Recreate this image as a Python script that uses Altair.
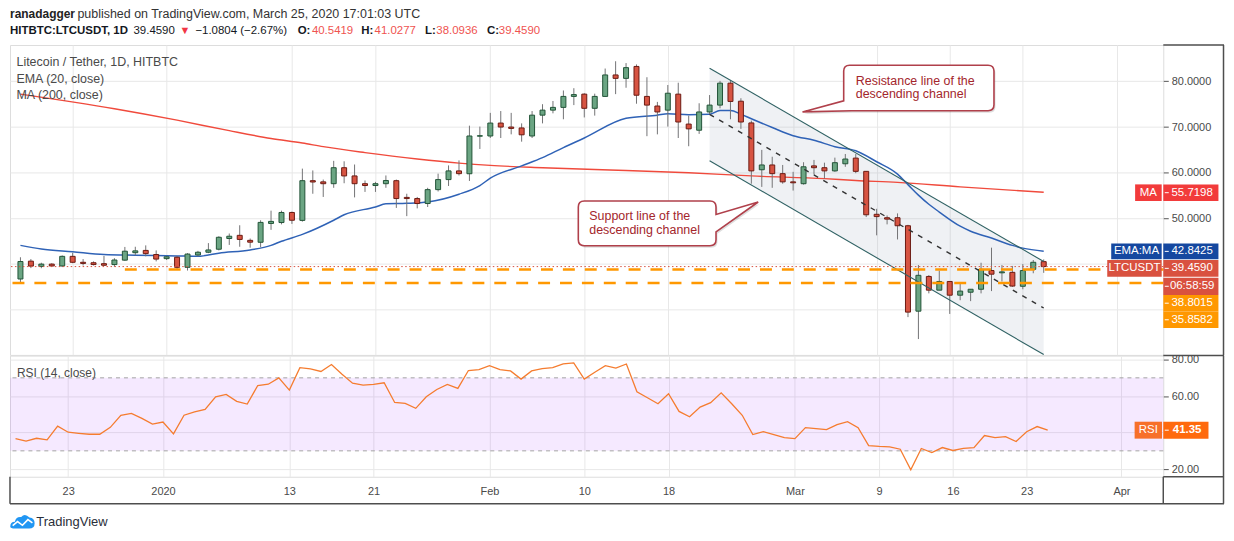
import altair as alt
import pandas as pd

FONT = "Liberation Sans"

# ---------------- values ----------------
first_day = "2019-12-18"
opens = [36.74, 40.65, 39.5, 40.0, 39.6, 41.7, 40.4, 40.3, 40.1, 39.9,
         40.87, 42.5, 43.0, 42.1, 41.2, 41.5, 39.3, 42.0, 42.6, 43.26,
         45.6, 46.3, 45.2, 44.78, 48.9, 49.1, 51.3, 49.57, 58.26, 58.0,
         57.6, 61.1, 59.3, 57.6, 57.2, 57.6, 58.26, 54.6, 54.35, 53.26,
         56.3, 58.5, 60.4, 59.78, 68.0, 68.04, 70.87, 70.0, 69.8, 68.04,
         72.6, 73.7, 74.3, 76.7, 77.2, 74.1, 76.7, 81.4, 80.65, 83.26,
         76.7, 74.6, 73.7, 77.2, 70.65, 69.3, 73.3, 74.8, 79.6, 75.65,
         70.9, 60.65, 61.7, 59.8, 58.0, 57.6, 61.5, 61.1, 60.4, 61.96,
         63.2, 60.3, 50.9, 50.15, 50.15, 48.4, 29.7, 37.3, 34.3, 36.2,
         33.2, 33.85, 34.5, 38.6, 38.1, 38.2, 35.15, 38.85, 40.5419]
highs = [41.5, 41.1, 40.3, 40.2, 41.9, 42.5, 41.1, 40.6, 41.8, 41.3,
         43.76, 43.8, 44.1, 43.0, 41.8, 41.8, 42.4, 42.9, 44.6, 46.1,
         46.7, 48.5, 45.6, 49.6, 51.7, 51.7, 51.5, 60.9, 60.5, 58.5,
         62.6, 62.5, 61.8, 58.3, 58.0, 59.4, 58.5, 55.4, 54.7, 56.7,
         59.8, 61.6, 62.7, 70.3, 70.1, 73.1, 73.5, 73.1, 70.8, 73.5,
         75.0, 75.7, 78.0, 78.5, 77.4, 77.3, 82.8, 84.4, 84.0, 83.7,
         80.9, 75.5, 79.2, 79.7, 72.5, 75.2, 77.0, 80.1, 80.3, 76.3,
         71.4, 65.0, 63.5, 61.7, 60.2, 62.3, 62.8, 62.2, 63.3, 64.1,
         64.1, 60.3, 52.1, 50.65, 51.1, 48.6, 39.8, 37.6, 38.6, 36.2,
         35.7, 34.5, 40.3, 43.6, 39.8, 39.6, 40.0, 40.9, 41.0277]
lows = [35.7, 39.13, 39.1, 39.4, 39.35, 40.2, 39.7, 39.7, 39.6, 39.4,
        40.7, 41.9, 41.7, 40.6, 40.9, 38.9, 38.6, 41.7, 42.4, 43.0,
        44.2, 43.8, 43.6, 43.7, 47.5, 48.7, 48.8, 49.3, 55.4, 54.7,
        56.7, 57.7, 54.6, 55.8, 55.8, 56.7, 52.3, 50.5, 52.2, 52.5,
        55.9, 57.1, 59.4, 58.2, 65.2, 67.6, 67.6, 68.4, 66.8, 67.6,
        70.8, 73.0, 71.7, 74.8, 72.1, 72.5, 76.6, 77.2, 78.6, 75.1,
        68.0, 68.4, 70.1, 67.6, 65.8, 68.5, 72.8, 74.1, 71.7, 69.6,
        57.6, 56.9, 56.7, 57.6, 56.1, 57.4, 59.6, 58.7, 60.2, 61.3,
        59.9, 50.3, 46.3, 48.7, 45.4, 28.4, 23.6, 33.6, 34.3, 29.1,
        32.1, 31.9, 33.6, 34.1, 36.2, 35.0, 34.5, 38.0, 38.0936]
closes = [40.57, 39.57, 40.0, 39.6, 41.7, 40.4, 40.15, 39.9, 39.75, 40.9,
          42.83, 42.9, 42.3, 41.1, 41.6, 39.3, 42.2, 42.6, 43.1, 45.87,
          46.1, 45.4, 44.8, 49.13, 49.35, 51.3, 49.6, 58.26, 57.97, 57.6,
          61.1, 59.3, 57.6, 57.2, 57.6, 58.3, 54.35, 54.35, 53.26, 56.3,
          58.5, 60.4, 59.8, 68.04, 68.1, 70.87, 70.0, 69.7, 68.3, 72.6,
          73.7, 74.3, 76.7, 77.1, 74.1, 76.7, 81.4, 80.65, 83.0, 76.96,
          74.8, 73.3, 77.4, 71.1, 69.6, 73.3, 74.8, 79.6, 75.6, 71.1,
          60.4, 61.7, 59.8, 58.0, 57.8, 61.3, 61.1, 60.4, 62.2, 63.0,
          60.3, 50.8, 50.4, 49.85, 48.4, 29.5, 37.55, 34.3, 36.2, 33.2,
          34.1, 34.5, 38.85, 37.8, 38.3, 35.2, 38.6, 40.4, 39.459]
rsi_values = [36.7, 35.3, 36.9, 36.0, 43.5, 40.2, 39.6, 39.1, 39.1, 42.9,
              49.5, 50.5, 47.8, 44.7, 45.8, 39.3, 49.5, 51.3, 52.7, 59.6,
              60.9, 57.1, 55.6, 65.8, 66.5, 70.0, 63.3, 75.6, 74.9, 73.5,
              77.3, 72.0, 67.1, 66.0, 66.4, 67.3, 56.5, 56.0, 53.3, 59.6,
              63.6, 66.4, 64.2, 74.0, 74.5, 76.7, 74.5, 73.8, 69.3, 73.8,
              75.1, 75.6, 77.6, 78.2, 69.3, 73.1, 76.7, 75.3, 77.6, 62.4,
              59.1, 55.8, 61.3, 51.6, 48.7, 54.0, 56.4, 61.8, 55.8, 49.5,
              38.9, 40.5, 38.9, 37.3, 36.7, 42.7, 42.2, 41.6, 44.4, 46.0,
              42.7, 32.9, 32.4, 32.2, 30.9, 19.6, 31.3, 29.1, 31.8, 30.2,
              31.3, 31.8, 38.4, 37.3, 37.8, 35.1, 40.5, 43.3, 41.35]

ema_days = [0, 2, 5, 8, 11, 15, 17, 19, 22, 24, 25, 27, 30, 31, 34, 35, 37, 39, 42, 44,
            45, 48, 50, 52, 54, 58, 61, 62, 64, 66, 67, 68, 69, 70, 72, 74, 76, 78, 80, 82,
            84, 85, 86, 87, 88, 90, 91, 93, 95, 96, 98]
ema_values = [44.1, 43.3, 42.7, 42.1, 41.95, 41.8, 41.7, 42.4, 43.1, 44.1, 45.0, 46.5, 49.6, 50.8,
              52.5, 53.2, 53.3, 53.6, 55.3, 57.2, 58.8, 61.5, 63.3, 65.5, 67.6, 71.9, 72.6, 72.9,
              72.7, 72.8, 73.6, 73.6, 72.8, 71.8, 69.9, 68.1, 67.1, 65.7, 64.8, 62.4, 59.7, 57.4,
              55.1, 53.1, 51.4, 48.3, 47.2, 45.7, 44.1, 43.5, 42.84]
ma_days = [0, 9, 15, 20, 24, 27, 29, 33, 38, 42, 45, 50, 55, 58, 64, 70, 77, 80, 84, 90, 98]
ma_values = [77.2, 74.0, 71.5, 69.2, 67.5, 66.5, 65.7, 64.4, 63.0, 62.1, 61.6, 61.1, 60.7, 60.5,
             60.0, 59.3, 58.7, 58.3, 57.9, 56.9, 55.72]

channel_dates = ["2020-02-22", "2020-03-25"]
channel_upper = [82.88, 40.57]
channel_middle = [72.75, 30.4]
channel_lower = [62.61, 20.2]

last_price = 39.459
level_high = 38.8015
level_high_start = "2019-12-28"
level_low = 35.8582
rsi_band = [70, 30]

price_ticks = [30, 40, 50, 60, 70, 80]
price_labelled = [50, 60, 70, 80]
rsi_ticks = [20, 40, 60, 80]
rsi_labelled = [20, 60, 80]
tick_dates = ["2019-12-23", "2020-01-01", "2020-01-13", "2020-01-21", "2020-02-01", "2020-02-10",
              "2020-02-18", "2020-03-01", "2020-03-09", "2020-03-16", "2020-03-23", "2020-04-01"]

# ---------------- layout constants ----------------
W = 1158.5
H1 = 311.3
H2 = 121.7
FRAME = "#4e4e4e"
GRID = "#e8e8e8"
UP, UP_B = "#6ba583", "#225437"
DN, DN_B = "#d75442", "#6b1a12"
ORANGE = "#ff9800"

dates = pd.date_range(first_day, periods=len(closes), freq="D").strftime("%Y-%m-%d").tolist()
DAY = 86400000
base_ms = pd.Timestamp(first_day, tz="UTC").value // 10**6
x_domain = [base_ms - 0.5246 * DAY, base_ms + 108.975 * DAY]
tick_ms = [int(pd.Timestamp(d, tz="UTC").value // 10**6) for d in tick_dates]

xscale = alt.Scale(type="utc", domain=x_domain, nice=False)
x_axis_top = alt.Axis(values=tick_ms, grid=True, gridColor=GRID, labels=False, ticks=False,
                      domain=False, title=None, zindex=0)
x_axis_bot = alt.Axis(values=tick_ms, grid=True, gridColor=GRID, labels=True, ticks=False,
                      domain=False, title=None, labelPadding=9, labelFont=FONT, labelFontSize=11,
                      labelColor="#4a4a4a", labelFlush=False, labelOverlap=False, zindex=0,
                      labelExpr="utcdate(datum.value) == 1 ? (utcmonth(datum.value) == 0 ? "
                                "utcFormat(datum.value, '%Y') : utcFormat(datum.value, '%b')) : "
                                "utcFormat(datum.value, '%-d')")
pscale = alt.Scale(domain=[20.13, 87.95], nice=False, zero=False)
p_axis = alt.Axis(orient="right", values=price_labelled, format=".4f", grid=True,
                  gridColor=GRID, domain=False, ticks=True, tickSize=5, tickColor="#555555",
                  labelPadding=3, labelFont=FONT, labelFontSize=11, labelColor="#4a4a4a",
                  title=None, labelOverlap=False, zindex=0)
rscale = alt.Scale(domain=[15.8, 82.18], nice=False, zero=False)
r_axis = alt.Axis(orient="right", values=rsi_labelled, format=".2f", grid=True,
                  gridColor=GRID, domain=False, ticks=True, tickSize=5, tickColor="#555555",
                  labelPadding=3, labelFont=FONT, labelFontSize=11, labelColor="#4a4a4a",
                  title=None, labelOverlap=False, zindex=0)


def XT(field):
    return alt.X(f"{field}:T", scale=xscale, axis=x_axis_top)


def XB(field):
    return alt.X(f"{field}:T", scale=xscale, axis=x_axis_bot)


def YP(field):
    return alt.Y(f"{field}:Q", scale=pscale, axis=p_axis)


def YR(field):
    return alt.Y(f"{field}:Q", scale=rscale, axis=r_axis)


one = pd.DataFrame({"a": [0]})


def txt(s, x, y, size=12, color="#222222", weight="normal", align="left"):
    return alt.Chart(pd.DataFrame({"s": [s]})).mark_text(
        align=align, baseline="middle", font=FONT, fontSize=size, fontWeight=weight, color=color
    ).encode(text="s:N", x=alt.value(x), y=alt.value(y))


def prule(x, y, x2=None, y2=None, color=FRAME, width=1.5):
    enc = dict(x=alt.value(x), y=alt.value(y))
    if x2 is not None:
        enc["x2"] = alt.value(x2)
    if y2 is not None:
        enc["y2"] = alt.value(y2)
    return alt.Chart(one).mark_rule(color=color, strokeWidth=width).encode(**enc)


def prect(x, x2, y, y2, color):
    return alt.Chart(one).mark_rect(color=color, opacity=1).encode(
        x=alt.value(x), x2=alt.value(x2), y=alt.value(y), y2=alt.value(y2))


def tag(label, value, y, y2, color, label_left=None, text_size=11.5):
    parts = []
    if label is not None:
        parts.append(prect(label_left, W - 1.6, y, y2, color))
        parts.append(txt(label, (label_left + W - 1.6) / 2, (y + y2) / 2, text_size, "white", align="center"))
    parts.append(prect(W, W + 55.4, y, y2, color))
    parts.append(prule(W + 1.5, (y + y2) / 2, x2=W + 5.5, color="white", width=1))
    parts.append(txt(value, W + 29, (y + y2) / 2, text_size, "white", align="center"))
    return parts


# ---------------- price panel ----------------
candles = pd.DataFrame({"date": dates, "open": opens, "high": highs, "low": lows, "close": closes})
ema_df = pd.DataFrame({"date": [dates[i] for i in ema_days], "ema": ema_values})
ma_df = pd.DataFrame({"date": [dates[i] for i in ma_days], "ma": ma_values})
chan_df = pd.DataFrame({"date": channel_dates, "upper": channel_upper,
                        "middle": channel_middle, "lower": channel_lower})

extra_grid = alt.Chart(pd.DataFrame({"v": [v for v in price_ticks if v not in price_labelled]})).mark_rule(
    color=GRID, strokeWidth=1).encode(y=YP("v"))
chan_fill = alt.Chart(chan_df).mark_area(color="#8f9ab0", opacity=0.14).encode(
    x=XT("date"), y=YP("upper"), y2="lower:Q")
ma_line = alt.Chart(ma_df).mark_line(color="#f04a3c", strokeWidth=1.4, interpolate="monotone").encode(
    x=XT("date"), y=YP("ma"))
ema_line = alt.Chart(ema_df).mark_line(color="#2f62b6", strokeWidth=1.5, interpolate="monotone").encode(
    x=XT("date"), y=YP("ema"))
up_cond = "datum.close >= datum.open"
wicks = alt.Chart(candles).mark_rule(color="#737375", strokeWidth=1).encode(
    x=XT("date"), y=YP("low"), y2="high:Q")
bodies = alt.Chart(candles).mark_bar(size=5, strokeWidth=1).encode(
    x=XT("date"), y=YP("open"), y2="close:Q",
    fill=alt.condition(up_cond, alt.value(UP), alt.value(DN)),
    stroke=alt.condition(up_cond, alt.value(UP_B), alt.value(DN_B)))
chan_up = alt.Chart(chan_df).mark_line(color="#2f6163", strokeWidth=1.1).encode(x=XT("date"), y=YP("upper"))
chan_lo = alt.Chart(chan_df).mark_line(color="#2f6163", strokeWidth=1.1).encode(x=XT("date"), y=YP("lower"))
chan_mid = alt.Chart(chan_df).mark_line(color="#333333", strokeWidth=1.4, strokeDash=[5, 6]).encode(
    x=XT("date"), y=YP("middle"))
price_line = alt.Chart(pd.DataFrame({"v": [last_price]})).mark_rule(
    color=DN, strokeWidth=1, strokeDash=[1.5, 2.5]).encode(y=YP("v"))
lvl_lo = alt.Chart(pd.DataFrame({"v": [level_low]})).mark_rule(
    color=ORANGE, strokeWidth=2.5, strokeDash=[12, 10]).encode(y=YP("v"))
lvl_hi = alt.Chart(pd.DataFrame({"d": [level_high_start], "v": [level_high]})).mark_rule(
    color=ORANGE, strokeWidth=2.5, strokeDash=[12, 10]).encode(x=XT("d"), x2=alt.value(W), y=YP("v"))

RES_PATH = ("M -0.508 -0.238 L 0.938 -0.238 Q 1 -0.238 1 -0.176 L 1 0.176 Q 1 0.238 0.938 0.238 "
            "L -0.49 0.238 L -1 0.25 L -0.57 0.134 L -0.57 -0.176 Q -0.57 -0.238 -0.508 -0.238 Z")
SUP_PATH = ("M -0.934 -0.249 L 0.464 -0.249 Q 0.531 -0.249 0.531 -0.183 L 0.531 -0.099 L 1 -0.238 "
            "L 0.531 0.094 L 0.531 0.183 Q 0.531 0.249 0.464 0.249 L -0.934 0.249 Q -1 0.249 -1 0.183 "
            "L -1 -0.183 Q -1 -0.249 -0.934 -0.249 Z")
CALLOUT_RED = "#b0404b"
TEXT_RED = "#a3262c"


def callout(date, price, path, size):
    d = pd.DataFrame({"d": [date], "p": [price]})
    shadow = alt.Chart(d).mark_point(shape=path, size=size, filled=True, fill="#000000", fillOpacity=0.13,
                                     strokeWidth=0, opacity=1, xOffset=1.5, yOffset=2).encode(
        x=XT("d"), y=YP("p"))
    box = alt.Chart(d).mark_point(shape=path, size=size, filled=True, fill="white", fillOpacity=1,
                                  stroke=CALLOUT_RED, strokeWidth=1.6, opacity=1).encode(
        x=XT("d"), y=YP("p"))
    return [shadow, box]


def note_text(lines, date, prices):
    d = pd.DataFrame({"d": [date] * len(lines), "p": prices, "t": lines})
    return alt.Chart(d).mark_text(align="left", baseline="middle", font=FONT, fontSize=12.5,
                                  color=TEXT_RED).encode(x=XT("d"), y=YP("p"), text="t:N")


res_note = callout("2020-03-11T01:40:00Z", 78.55, RES_PATH, 36979) + [
    note_text(["Resistance line of the", "descending channel"], "2020-03-07T00:00:00Z", [80.05, 77.15])]
sup_note = callout("2020-02-18T01:00:00Z", 48.91, SUP_PATH, 32652) + [
    note_text(["Support line of the", "descending channel"], "2020-02-10T11:30:00Z", [50.45, 47.55])]

header = [
    txt("ranadagger", 0, -30.7, 12, "#222222", "bold"),
    txt("published on TradingView.com, March 25, 2020 17:01:03 UTC", 67.75, -30.7, 12.5, "#333333"),
    txt("HITBTC:LTCUSDT, 1D", 0, -14, 11.5, "#131722", "bold"),
    txt("39.4590", 124.05, -14, 11.5, "#131722"),
    txt("▼", 170.25, -14, 11, "#f23645"),
    txt("−1.0804 (−2.67%)", 186.25, -14, 11.5, "#131722"),
    txt("O:", 288.95, -14, 11.5, "#131722", "bold"),
    txt("40.5419", 303.25, -14, 11.5, "#ef5350"),
    txt("H:", 352.95, -14, 11.5, "#131722", "bold"),
    txt("41.0277", 366.25, -14, 11.5, "#ef5350"),
    txt("L:", 416.85, -14, 11.5, "#131722", "bold"),
    txt("38.0936", 428.25, -14, 11.5, "#ef5350"),
    txt("C:", 479.25, -14, 11.5, "#131722", "bold"),
    txt("39.4590", 491.05, -14, 11.5, "#ef5350"),
]
legend = [
    txt("Litecoin / Tether, 1D, HITBTC", 6.5, 17, 12.5, "#4a4a4a"),
    txt("EMA (20, close)", 6.5, 34.3, 12.5, "#4a4a4a"),
    txt("MA (200, close)", 6.5, 50.3, 12.5, "#4a4a4a"),
]
price_tags = (tag("MA", "55.7198", 140, 156.7, "#f23b3b", W - 28.3)
              + tag("EMA:MA", "42.8425", 199.3, 215.3, "#1548a0", W - 52.3)
              + tag("LTCUSDT", "39.4590", 216, 232.7, "#d9513f", W - 56.3)
              + tag(None, "06:58:59", 233.7, 251, "#d9513f")
              + tag(None, "38.8015", 251, 267.7, ORANGE)
              + tag(None, "35.8582", 267.7, 284.3, ORANGE))
price_frame = [
    prule(W, 0, x2=W + 61),
    prule(W + 60.5, 0, y2=H1),
]

price = alt.layer(
    extra_grid, chan_fill, ma_line, ema_line, wicks, bodies, chan_up, chan_lo, chan_mid,
    price_line, lvl_lo, lvl_hi, *res_note, *sup_note, *legend, *header, *price_tags, *price_frame
).properties(width=W, height=H1)

# ---------------- RSI panel ----------------
rsi_df = pd.DataFrame({"date": dates, "rsi": rsi_values})
rsi_extra_grid = alt.Chart(pd.DataFrame({"v": [v for v in rsi_ticks if v not in rsi_labelled]})).mark_rule(
    color=GRID, strokeWidth=1).encode(y=YR("v"))
band = alt.Chart(pd.DataFrame({"top": [rsi_band[0]], "bot": [rsi_band[1]]})).mark_rect(
    color="#9c27ff", opacity=0.1).encode(x=alt.value(0), x2=alt.value(W), y=YR("top"), y2="bot:Q")
band_lines = alt.Chart(pd.DataFrame({"v": rsi_band})).mark_rule(
    color="#a3a3a3", strokeWidth=1, strokeDash=[4, 4]).encode(y=YR("v"))
rsi_line = alt.Chart(rsi_df).mark_line(color="#f57c2f", strokeWidth=1.3).encode(x=XB("date"), y=YR("rsi"))
rsi_tag = [
    prect(W - 28.8, W - 1.3, 66.4, 83.4, "#f7702a"),
    txt("RSI", W - 15, 74.9, 11.5, "white", align="center"),
    prect(W, W + 45.4, 66.4, 83.4, "#ff6a0d"),
    prule(W + 1.5, 74.9, x2=W + 5.5, color="white", width=1),
    txt("41.35", W + 24, 74.9, 11.5, "white", "bold", align="center"),
]
CLOUD = ("M -1 0.4 Q -1 0 -0.62 0 Q -0.55 -0.45 -0.1 -0.4 Q 0.2 -0.75 0.58 -0.35 Q 1 -0.3 1 0.12 "
         "Q 1 0.55 0.55 0.55 L -0.6 0.55 Q -1 0.55 -1 0.4 Z")
ZIG = "M -0.8 0.3 L -0.4 -0.02 L 0 0.28 L 0.45 -0.18 L 0.82 0.08"
logo = [
    alt.Chart(one).mark_point(shape=CLOUD, size=600, filled=True, fill="#2196f3", strokeWidth=0,
                              opacity=1).encode(x=alt.value(12.5), y=alt.value(167)),
    alt.Chart(one).mark_point(shape=ZIG, size=600, filled=False, stroke="white", strokeWidth=1.6,
                              opacity=1).encode(x=alt.value(12.5), y=alt.value(167)),
    txt("TradingView", 26.5, 167.2, 13, "#2a2e39"),
]
rsi_frame = [
    prule(W, 0, x2=W + 61),
    prule(W, H2, x2=W + 61),
    prule(W + 60.5, 0, y2=H2 + 27),
    prule(0, H2 + 27, x2=W + 61),
    prule(0, H2, y2=H2 + 27),
    prule(W, H2, y2=H2 + 27),
]
rsi = alt.layer(
    rsi_extra_grid, band, band_lines, rsi_line, txt("RSI (14, close)", 7, 17.4, 12, "#4a4a4a"),
    *rsi_tag, *logo, *rsi_frame
).properties(width=W, height=H2)

chart = alt.vconcat(price, rsi, spacing=0, bounds="flush").properties(
    padding={"left": 0, "top": -2, "right": 0, "bottom": 0}
).configure_view(stroke=FRAME, strokeWidth=1.5).configure(font=FONT, background="white")

chart.save("out.html", embed_options={"renderer": "svg", "actions": False})
